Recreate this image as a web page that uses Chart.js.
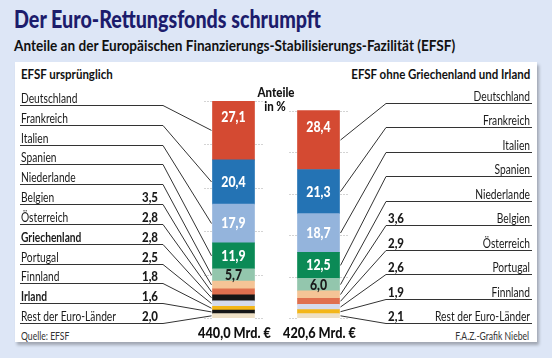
<!DOCTYPE html>
<html>
<head>
<meta charset="utf-8">
<script src="https://cdn.jsdelivr.net/npm/chart.js@4.4.1/dist/chart.umd.min.js"></script>
<style>
    body { margin: 0; width: 552px; height: 358px; background: #dde6f6; position: relative; overflow: hidden;
           font-family: Lato, 'Open Sans', sans-serif; }
    #panel { position: absolute; left: 15px; top: 62px; width: 522px; height: 280px; background: #fff;
             box-shadow: 2px 3px 3px rgba(0,0,0,0.28); }
    .t { position: absolute; white-space: nowrap; line-height: 1; transform: scaleX(0.82); transform-origin: left center; }
    .r { transform-origin: right center; }
    #title { left: 14px; top: 7px; font-size: 24px; font-weight: 900; color: #1c1c6c; }
    #subtitle { left: 14px; top: 38px; font-size: 15px; font-weight: bold; color: #111; transform: scaleX(0.905); }
    #headLeft { left: 21px; top: 67px; font-size: 14px; font-weight: bold; color: #111; }
    #headRight { right: 22px; top: 67px; font-size: 14px; font-weight: bold; color: #111; }
    #source { left: 21px; top: 331px; font-size: 10.5px; color: #333; }
    #credit { right: 23px; top: 331px; font-size: 10.5px; color: #333; }
    canvas { position: absolute; left: 0; top: 0; }
</style>
</head>
<body>
<div id="panel"></div>
<div class="t" id="title">Der Euro-Rettungsfonds schrumpft</div>
<div class="t" id="subtitle">Anteile an der Europäischen Finanzierungs-Stabilisierungs-Fazilität (EFSF)</div>
<div class="t" id="headLeft">EFSF ursprünglich</div>
<div class="t r" id="headRight">EFSF ohne Griechenland und Irland</div>
<div class="t" id="source">Quelle: EFSF</div>
<div class="t r" id="credit">F.A.Z.-Grafik Niebel</div>
<canvas id="chart" width="552" height="358"></canvas>
<script>
const countries = ['Deutschland', 'Frankreich', 'Italien', 'Spanien', 'Niederlande', 'Belgien',
    'Österreich', 'Griechenland', 'Portugal', 'Finnland', 'Irland', 'Rest der Euro-Länder'];
// Anteile in %
const sharesBefore = [27.1, 20.4, 17.9, 11.9, 5.7, 3.5, 2.8, 2.8, 2.5, 1.8, 1.6, 2.0];
const sharesAfter  = [28.4, 21.3, 18.7, 12.5, 6.0, 3.6, 2.9, null, 2.6, 1.9, null, 2.1];
// Volumen in Mrd. Euro
const totals = [440.0, 420.6];
const totalLabels = ['440,0 Mrd. €', '420,6 Mrd. €'];
const boldCountries = ['Griechenland', 'Irland'];

const COLORS = ['#d44a32', '#2473b4', '#94b4dc', '#0b8a56', '#93c6ad', '#f5c496',
    '#e0704f', '#161616', '#d5dbed', '#f3b619', '#161616', '#eee0c5'];

const FONT = "Lato, 'Open Sans', sans-serif";
const fmt = v => v.toFixed(1).replace('.', ',');

// Deutschland soll oben liegen -> umgekehrte Reihenfolge im Stapel
const datasets = countries.map((name, i) => ({
    label: name,
    data: [
        sharesBefore[i] * totals[0] / 100,
        sharesAfter[i] == null ? null : sharesAfter[i] * totals[1] / 100
    ],
    backgroundColor: COLORS[i],
    borderWidth: 0,
    barThickness: 42
})).reverse();

const dsIndex = i => countries.length - 1 - i;

// schmale Schrift per horizontaler Stauchung
function text(ctx, str, x, y, font, align, color, squeeze = 0.82) {
    ctx.save();
    ctx.translate(x, y);
    ctx.scale(squeeze, 1);
    ctx.font = font;
    ctx.textAlign = align;
    ctx.fillStyle = color;
    ctx.fillText(str, 0, 0);
    ctx.restore();
}

const labelPlugin = {
    id: 'efsfLabels',
    beforeDatasetsDraw(chart) {
        const { ctx } = chart;
        const y = chart.scales.y;
        ctx.save();
        ctx.strokeStyle = '#a8a8a8';
        ctx.lineWidth = 1;
        ctx.setLineDash([1, 2]);
        totals.forEach((total, b) => {
            const el = chart.getDatasetMeta(0).data[b];
            const left = el.x - el.width / 2, right = el.x + el.width / 2;
            for (let k = 0; k <= 5; k++) {
                const py = Math.round(y.getPixelForValue(total * k / 5)) + 0.5;
                ctx.beginPath();
                ctx.moveTo(left - 8, py); ctx.lineTo(left - 1, py);
                ctx.moveTo(right + 1, py); ctx.lineTo(right + 8, py);
                ctx.stroke();
            }
        });
        ctx.restore();
    },
    afterDatasetsDraw(chart) {
        const { ctx } = chart;
        ctx.save();
        ctx.textBaseline = 'alphabetic';

        const seg = (i, b) => {
            const el = chart.getDatasetMeta(dsIndex(i)).data[b];
            const p = el.getProps(['x', 'y', 'base', 'width'], true);
            return { x: p.x, top: p.y, bottom: p.base, w: p.width, mid: (p.y + p.base) / 2 };
        };

        // Werte in den Balken
        const drawInside = (shares, b) => {
            shares.forEach((v, i) => {
                if (v == null || i > 4) return;
                const s = seg(i, b);
                const ty = i === 0 ? s.top + 21 : s.mid + 5;
                text(ctx, fmt(v), s.x, ty, `900 15px ${FONT}`, 'center', i === 4 ? '#1a1a1a' : '#fff');
            });
        };
        drawInside(sharesBefore, 0);
        drawInside(sharesAfter, 1);

        ctx.strokeStyle = '#333';
        ctx.lineWidth = 1;

        // linke Seite: alle Länder
        const leftRows = countries.length;
        countries.forEach((name, i) => {
            const uy = Math.round(105 + i * (218 / (leftRows - 1))) + 0.5;
            const s = seg(i, 0);
            ctx.beginPath();
            ctx.moveTo(20, uy);
            ctx.lineTo(163, uy);
            ctx.lineTo(s.x - s.w / 2 - 1, s.mid);
            ctx.stroke();
            const f = `${boldCountries.includes(name) ? 'bold ' : ''}14px ${FONT}`;
            text(ctx, name, 21, uy - 3, f, 'left', '#1a1a1a', 0.73);
            if (i > 4) {
                text(ctx, fmt(sharesBefore[i]), 158, uy - 3, `900 14px ${FONT}`, 'right', '#1a1a1a');
            }
        });

        // rechte Seite: ohne Griechenland und Irland
        const rightIdx = countries.map((c, i) => i).filter(i => sharesAfter[i] != null);
        rightIdx.forEach((i, r) => {
            const uy = Math.round(103 + r * (220 / (rightIdx.length - 1))) + 0.5;
            const s = seg(i, 1);
            ctx.beginPath();
            ctx.moveTo(532, uy);
            ctx.lineTo(386, uy);
            ctx.lineTo(s.x + s.w / 2 + 1, s.mid);
            ctx.stroke();
            text(ctx, countries[i], 530, uy - 3, `14px ${FONT}`, 'right', '#1a1a1a', 0.73);
            if (i > 4) {
                text(ctx, fmt(sharesAfter[i]), 388, uy - 3, `900 14px ${FONT}`, 'left', '#1a1a1a');
            }
        });

        // Achsentitel und Summen
        text(ctx, 'Anteile', 276, 97, `900 14px ${FONT}`, 'center', '#111');
        text(ctx, 'in %', 275, 111, `900 14px ${FONT}`, 'center', '#111');
        totalLabels.forEach((t, b) => {
            const s = seg(0, b);
            text(ctx, t, s.x + 1, 338, `900 15.5px ${FONT}`, 'center', '#111');
        });
        ctx.restore();
    }
};

new Chart(document.getElementById('chart'), {
    type: 'bar',
    data: { labels: ['ursprünglich', 'ohne GR/IE'], datasets },
    options: {
        responsive: false,
        animation: false,
        layout: { padding: { left: 191, right: 191, top: 101, bottom: 40 } },
        scales: {
            x: { stacked: true, display: false },
            y: { stacked: true, display: false, min: 0, max: totals[0] }
        },
        plugins: { legend: { display: false }, tooltip: { enabled: false } }
    },
    plugins: [labelPlugin]
});
</script>
</body>
</html>
